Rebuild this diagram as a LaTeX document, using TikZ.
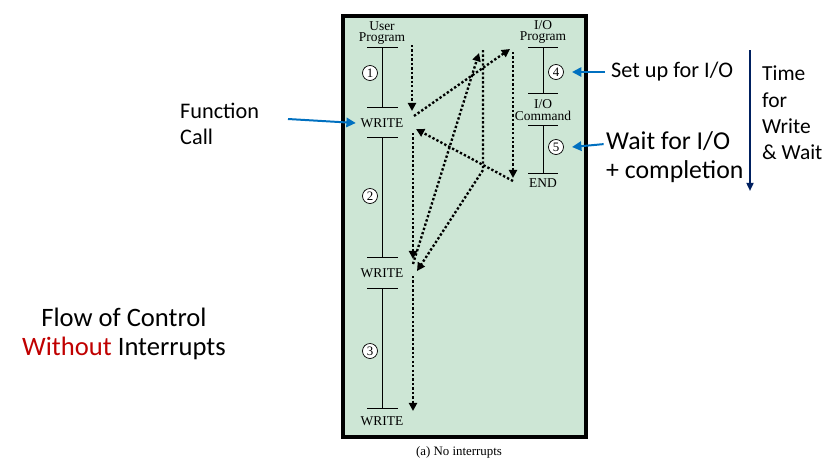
\documentclass[tikz,border=0pt]{standalone}
\usepackage{fontspec}
\setmainfont{Liberation Serif}
\newfontfamily\calibri{Carlito}
\usepackage{tikz}
\usetikzlibrary{arrows.meta}
\usetikzlibrary{positioning}
\definecolor{panelgreen}{RGB}{205,230,213}
\definecolor{callblue}{RGB}{0,112,192}
\definecolor{timenavy}{RGB}{0,32,96}
\definecolor{withoutred}{RGB}{192,0,0}
\tikzstyle{progtext} = [inner sep=0pt, align=center, font=\fontsize{11.5}{10}\selectfont]
\tikzstyle{stepnum} = [circle, draw=black, fill=white, inner sep=0pt, minimum size=0.45cm, line width=0.6pt, font=\fontsize{11}{11}\selectfont]
\tikzstyle{timeline} = [line width=0.7pt]
\tikzstyle{flow} = [line width=2pt, dash pattern=on 2pt off 1.8pt, -{Triangle[length=7pt,width=7pt]}]
\tikzstyle{callout} = [callblue, line width=1.7pt, -{Triangle[length=8pt,width=8pt]}]
\tikzstyle{note} = [inner sep=0pt, anchor=west, align=left, font=\calibri\fontsize{19}{22}\selectfont]

\begin{document}
\begin{tikzpicture}[x=0.03cm, y=-0.03cm]
\useasboundingbox (0,0) rectangle (833,464);

\draw[fill=panelgreen, line width=2.6pt] (343,16) rectangle (586,437);
\node (caption) at (459,452) [inner sep=0pt, font=\fontsize{11}{11}\selectfont] {(a) No interrupts};

\node (user) at (382,33) [progtext] {User\\Program};
\node (write1) at (382,123) [progtext] {WRITE};
\node (write2) at (382,273) [progtext] {WRITE};
\node (write3) at (382,421) [progtext] {WRITE};
\draw[timeline] (367,47) -- (398,47) (382,47) -- (382,107) (367,107) -- (398,107);
\draw[timeline] (367,137) -- (398,137) (382,137) -- (382,257) (367,257) -- (398,257);
\draw[timeline] (367,288) -- (398,288) (382,288) -- (382,408) (367,408) -- (398,408);
\node (stepone) at (370,73) [stepnum] {1};
\node (steptwo) at (370,196) [stepnum] {2};
\node (stepthree) at (370,351) [stepnum] {3};

\node (ioprog) at (543,32) [progtext] {I/O\\Program};
\node (iocmd) at (543,110) [progtext] {I/O\\Command};
\node (ioend) at (543,183) [progtext] {END};
\draw[timeline] (528,47) -- (558,47) (543,47) -- (543,93) (528,93) -- (558,93);
\draw[timeline] (528,125) -- (558,125) (543,125) -- (543,173) (528,173) -- (558,173);
\node (stepfour) at (556,72) [stepnum] {4};
\node (stepfive) at (556,147) [stepnum] {5};

\coordinate (callA) at (412,45);
\coordinate (callB) at (412,111);
\coordinate (goA) at (414,116);
\coordinate (goB) at (510,49);
\coordinate (runA) at (513,52);
\coordinate (runB) at (513,178);
\coordinate (backA) at (513,181);
\coordinate (backB) at (416,129);
\coordinate (contA) at (413,133);
\coordinate (contB) at (413,259);
\coordinate (goC) at (413,264);
\coordinate (goD) at (479,53);
\coordinate (runC) at (483,50);
\coordinate (runD) at (483,170);
\coordinate (backC) at (417,271);
\coordinate (contC) at (413,276);
\coordinate (contD) at (413,411);
\draw[flow] (callA) -- (callB);
\draw[flow] (goA) -- (goB);
\draw[flow] (runA) -- (runB);
\draw[flow] (backA) -- (backB);
\draw[flow] (contA) -- (contB);
\draw[flow] (goC) -- (goD);
\draw[flow] (runC) -- (runD) -- (backC);
\draw[flow] (contC) -- (contD);

\node (fcall) at (180,124) [note] {Function\\Call};
\coordinate (fcallstart) at (288,119);
\draw[callout] (fcallstart) -- ([xshift=-4pt]write1.west);

\node (setup) at (611,72) [note] {Set up for I/O};
\draw[callout] ([xshift=-5pt]setup.west) -- ([xshift=7pt]stepfour.east);
\node (waitio) at (606,157) [note, font=\calibri\fontsize{22}{25}\selectfont] {Wait for I/O\\+ completion};
\draw[callout] ([xshift=-2pt,yshift=11pt]waitio.west) -- ([xshift=7pt]stepfive.east);

\coordinate (timetop) at (750,50);
\coordinate (timebottom) at (750,191);
\draw[timenavy, line width=1.6pt, -{Triangle[length=7pt,width=6pt]}] (timetop) -- (timebottom);
\node (timetext) at (762,113) [note, font=\calibri\fontsize{18.3}{22.4}\selectfont] {Time\\for\\Write\\\& Wait};

\node (flowtitle) at (124,334) [inner sep=0pt, align=center, font=\calibri\fontsize{22.7}{25}\selectfont] {Flow of Control\\\textcolor{withoutred}{Without} Interrupts};

\end{tikzpicture}
\end{document}
